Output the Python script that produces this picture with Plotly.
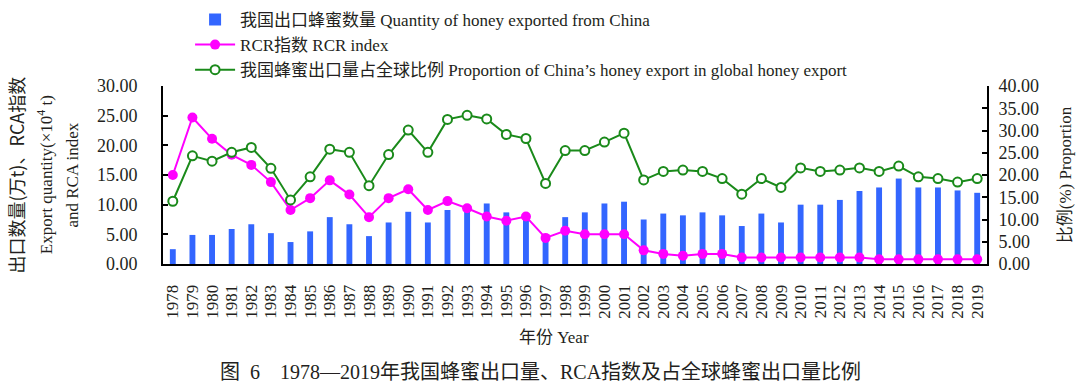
import plotly.graph_objects as go

years = [str(y) for y in range(1978, 2020)]

export_qty = [2.5, 4.9, 4.9, 5.9, 6.7, 5.2, 3.7, 5.5, 7.9, 6.7, 4.7, 7.0, 8.8, 7.0, 9.1,
              9.4, 10.2, 8.7, 8.0, 4.6, 7.9, 8.7, 10.2, 10.5, 7.5, 8.5, 8.2, 8.7, 8.2, 6.4,
              8.5, 7.0, 10.0, 10.0, 10.8, 12.3, 12.9, 14.4, 12.9, 12.9, 12.4, 12.0]

rcr_index = [15.0, 24.7, 21.1, 18.4, 16.7, 13.8, 9.1, 11.1, 14.1, 11.7, 7.9, 11.1, 12.6, 9.1, 10.6,
             9.4, 8.0, 7.3, 8.0, 4.4, 5.6, 5.0, 5.0, 5.0, 2.3, 1.7, 1.4, 1.7, 1.7, 1.1,
             1.1, 1.1, 1.1, 1.1, 1.1, 1.1, 0.8, 0.8, 0.8, 0.8, 0.8, 0.8]

proportion = [14.1, 24.3, 23.1, 25.1, 26.2, 21.5, 14.4, 19.6, 25.8, 25.1, 17.6, 24.6, 30.1, 25.1, 32.5,
              33.4, 32.6, 29.1, 28.2, 18.1, 25.5, 25.5, 27.4, 29.4, 18.9, 20.8, 21.1, 20.8, 19.2, 15.7,
              19.2, 17.2, 21.6, 20.8, 21.1, 21.6, 20.8, 22.0, 19.6, 19.2, 18.4, 19.2]

left_ticks = [0, 5, 10, 15, 20, 25, 30]
right_ticks = [0, 5, 10, 15, 20, 25, 30, 35, 40]

FONT = "Liberation Serif, Times New Roman, Noto Sans CJK SC"
TXT = "#231f20"

fig = go.Figure()
fig.add_trace(go.Bar(
    x=years, y=export_qty, name="我国出口蜂蜜数量 Quantity of honey exported from China",
    marker=dict(color="#3366ff", line=dict(width=0)), width=0.3, yaxis="y"))
fig.add_trace(go.Scatter(
    x=years, y=rcr_index, name="RCR指数 RCR index", mode="lines+markers",
    line=dict(color="#ff00ff", width=2),
    marker=dict(color="#ff00ff", size=10, symbol="circle"), yaxis="y"))
fig.add_trace(go.Scatter(
    x=years, y=proportion, name="我国蜂蜜出口量占全球比例 Proportion of China\u2019s honey export in global honey export",
    mode="lines+markers", line=dict(color="#1a8a1a", width=2),
    marker=dict(color="white", size=9, symbol="circle", line=dict(color="#1a8a1a", width=2)),
    yaxis="y2"))

fig.update_layout(
    width=1080, height=389,
    margin=dict(l=163, r=93, t=86, b=125, autoexpand=False),
    paper_bgcolor="white", plot_bgcolor="white",
    font=dict(family=FONT, size=17, color=TXT),
    showlegend=True,
    legend=dict(xref="container", yref="container", x=0.176, y=0.995,
                xanchor="left", yanchor="top", orientation="v",
                font=dict(family=FONT, size=17, color=TXT), itemwidth=40,
                bgcolor="rgba(0,0,0,0)", tracegroupgap=0),
    bargap=0.7,
    xaxis=dict(type="category", range=[-0.5, 41.5], tickvals=years, ticktext=years,
               showline=True, linecolor="black", linewidth=2,
               ticks="", tickangle=-90, tickfont=dict(family=FONT, size=17, color=TXT),
               ticklabelstandoff=12, showgrid=False, zeroline=False, automargin=False),
    yaxis=dict(range=[0, 30], tickvals=left_ticks, tickformat=".2f", showline=True,
               linecolor="black", linewidth=2, ticks="inside", ticklen=5, tickwidth=2,
               tickcolor="black", tickfont=dict(family=FONT, size=18, color=TXT),
               ticklabelstandoff=20, showgrid=False, zeroline=False, automargin=False),
    yaxis2=dict(range=[0, 40], tickvals=right_ticks, tickformat=".2f", overlaying="y", side="right",
                showline=True, linecolor="black", linewidth=2, ticks="inside", ticklen=5, tickwidth=2,
                tickcolor="black", tickfont=dict(family=FONT, size=18, color=TXT),
                ticklabelstandoff=6, showgrid=False, zeroline=False, automargin=False),
)

annotations = [
    dict(text="出口数量(万t)、RCA指数", x=-0.179, y=0.5, textangle=-90,
         font=dict(family="Noto Sans CJK SC", size=18, color=TXT)),
    dict(text="Export quantity(×10<sup>4</sup> t)", x=-0.143, y=0.5, textangle=-90,
         font=dict(family=FONT, size=17, color=TXT)),
    dict(text="and RCA index", x=-0.111, y=0.5, textangle=-90,
         font=dict(family=FONT, size=17, color=TXT)),
    dict(text="比例(%) Proportion", x=1.095, y=0.5, textangle=-90,
         font=dict(family=FONT, size=17, color=TXT)),
    dict(text="年份 Year", x=0.475, y=-0.415,
         font=dict(family=FONT, size=17, color=TXT)),
    dict(text="图  6    1978—2019年我国蜂蜜出口量、RCA指数及占全球蜂蜜出口量比例", x=0.458, y=-0.605,
         font=dict(family=FONT, size=20, color=TXT)),
]
for a in annotations:
    fig.add_annotation(xref="paper", yref="paper", showarrow=False, xanchor="center",
                       yanchor="middle", **a)

fig.write_html("out.html", config={"displayModeBar": False},
               post_script="document.body.style.margin='0';document.body.style.overflow='hidden';")
